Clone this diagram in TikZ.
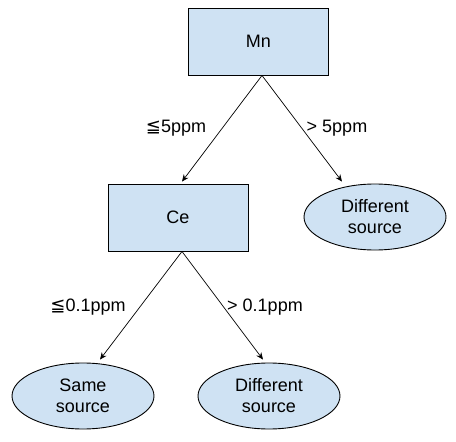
\documentclass[tikz,border=0pt]{standalone}
\usepackage{fontspec}
\setmainfont{Liberation Sans}
\newfontfamily\symfont{DejaVu Sans}
\usetikzlibrary{shapes.geometric,arrows.meta}
\definecolor{boxblue}{HTML}{CFE2F3}
\tikzset{
  base/.style={draw=black, fill=boxblue, line width=0.9pt, inner sep=0pt, font=\fontsize{18}{21}\selectfont, align=center},
  rectbox/.style={base, rectangle, minimum width=140, minimum height=67},
  ellbox/.style={base, ellipse, minimum width=142, minimum height=66},
  conn/.style={line width=0.7pt, -{Stealth[length=7pt,width=6pt]}},
  lbl/.style={font=\fontsize{18}{21}\selectfont, inner sep=0pt}
}
\begin{document}
\begin{tikzpicture}[x=1pt,y=-1pt]
\useasboundingbox (0,0) rectangle (456,442);
\node[rectbox] (mn) at (258.5,41.5) {Mn};
\node[rectbox] (ce) at (178,217.5) {Ce};
\node[ellbox] (d1) at (375,217) {Different\\source};
\node[ellbox] (s2) at (83,396) {Same\\source};
\node[ellbox] (d2) at (269,396) {Different\\source};
\draw[conn] ([xshift=3.5]mn.south) -- ([xshift=4,yshift=2]ce.north);
\draw[conn] ([xshift=3.5]mn.south) -- ([xshift=-33,yshift=2]d1.north);
\draw[conn] ([xshift=4]ce.south) -- ([xshift=17,yshift=3]s2.north);
\draw[conn] ([xshift=4]ce.south) -- ([xshift=-6,yshift=3]d2.north);
\node[lbl] (l1) at (176,128) {{\symfont ≦}5ppm};
\node[lbl] (l2) at (337,128) {> 5ppm};
\node[lbl] (l3) at (88,307) {{\symfont ≦}0.1ppm};
\node[lbl] (l4) at (265,307) {> 0.1ppm};
\end{tikzpicture}
\end{document}
